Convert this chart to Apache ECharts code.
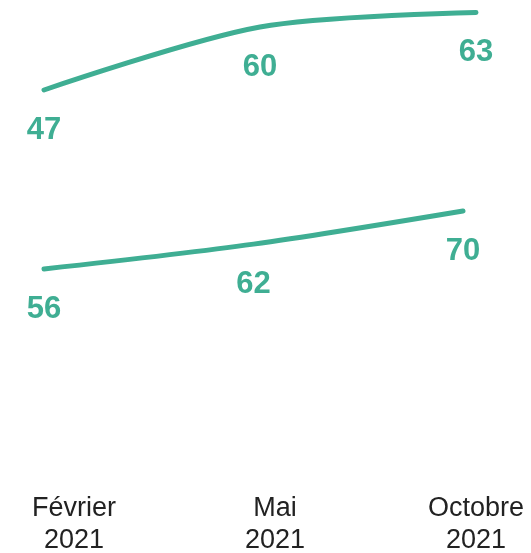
<!DOCTYPE html>
<html>
<head>
<meta charset="utf-8">
<script src="https://cdn.jsdelivr.net/npm/echarts@6/dist/echarts.min.js"></script>
<style>
  html, body { margin: 0; padding: 0; background: #fff; }
  #chart { width: 531px; height: 553px; }
</style>
</head>
<body>
<div id="chart"></div>
<script>
// data
const months = ['Février\n2021', 'Mai\n2021', 'Octobre\n2021'];
const topLine = [47, 60, 63];
const bottomLine = [56, 62, 70];

const green = '#3fae93';

const chart = echarts.init(document.getElementById('chart'));

function lineSeries(idx, values) {
  return {
    type: 'line',
    xAxisIndex: idx,
    yAxisIndex: idx,
    data: values,
    smooth: 0.3,
    symbol: 'circle',
    symbolSize: 1,
    showSymbol: true,
    clip: false,
    itemStyle: { color: 'rgba(0,0,0,0)' },
    lineStyle: { color: green, width: 5, cap: 'round' },
    label: {
      show: true,
      position: 'bottom',
      distance: 24,
      color: green,
      fontFamily: 'Liberation Sans, Arial, sans-serif',
      fontWeight: 'bold',
      fontSize: 31
    },
    labelLayout: { hideOverlap: false },
    silent: true
  };
}

const hiddenCat = (g) => ({
  type: 'category', gridIndex: g, data: months, boundaryGap: false, show: false
});

let option = {
  animation: false,
  grid: [
    { left: 44, right: 55, top: 12.5, height: 77.5, outerBoundsMode: 'none' },
    { left: 44, right: 68, top: 211, height: 58, outerBoundsMode: 'none' },
    { left: 74, right: 55, top: 400, height: 89, outerBoundsMode: 'none' }
  ],
  xAxis: [
    hiddenCat(0),
    hiddenCat(1),
    {
      type: 'category', gridIndex: 2, data: months, boundaryGap: false,
      axisLine: { show: false }, axisTick: { show: false },
      axisLabel: {
        color: '#222',
        fontFamily: 'Liberation Sans, Arial, sans-serif',
        fontSize: 27,
        lineHeight: 32,
        margin: 4
      }
    }
  ],
  yAxis: [
    { type: 'value', gridIndex: 0, min: 47, max: 63, show: false },
    { type: 'value', gridIndex: 1, min: 56, max: 70, show: false },
    { type: 'value', gridIndex: 2, show: false }
  ],
  series: [
    lineSeries(0, topLine),
    lineSeries(1, bottomLine)
  ]
};

chart.setOption(option);
</script>
</body>
</html>
